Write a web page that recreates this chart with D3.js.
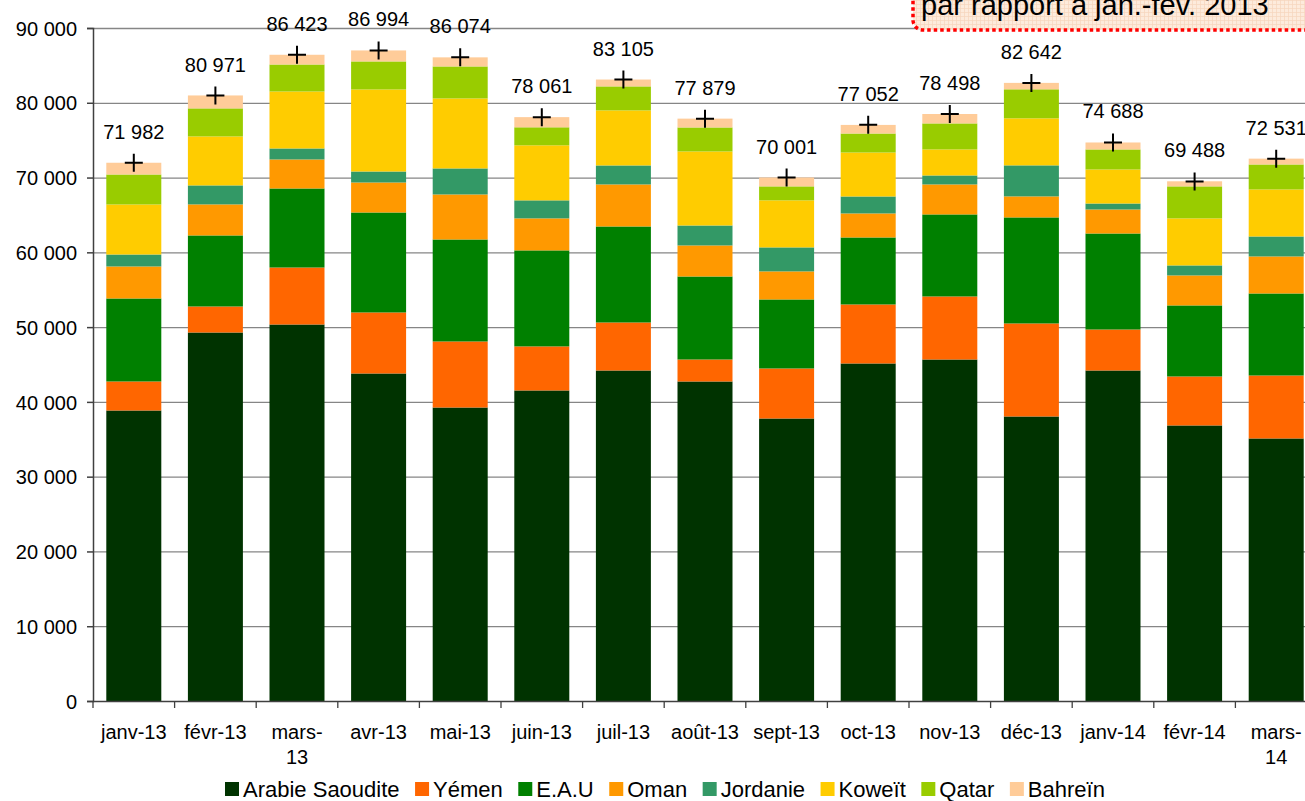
<!DOCTYPE html>
<html>
<head>
<meta charset="utf-8">
<script src="https://cdn.jsdelivr.net/npm/d3@7"></script>
<style>
  body { margin: 0; background: #fff; }
  svg { font-family: "Liberation Sans", Arial, sans-serif; }
</style>
</head>
<body>
<div id="chart"></div>
<script>
var months = ["janv-13", "févr-13", "mars-13", "avr-13", "mai-13", "juin-13", "juil-13", "août-13",
              "sept-13", "oct-13", "nov-13", "déc-13", "janv-14", "févr-14", "mars-14"];
var seriesNames = ["Arabie Saoudite", "Yémen", "E.A.U", "Oman", "Jordanie", "Koweït", "Qatar", "Bahreïn"];
var seriesColors = ["#003300", "#ff6600", "#008000", "#ff9900", "#339966", "#ffcc00", "#99cc00", "#ffcc99"];

var arabie   = [38850, 49280, 50350, 43800, 39250, 41530, 44200, 42730, 37780, 45140, 45670, 38050, 44200, 36850, 35110];
var yemen    = [ 3880,  3480,  7620,  8160,  8830,  5890,  6420,  2940,  6690,  7890,  8430, 12440,  5480,  6550,  8420];
var eau      = [11100,  9500, 10570, 13370, 13640, 12840, 12840, 11100,  9230,  8960, 10970, 14180, 12840,  9500, 10970];
var oman     = [ 4280,  4150,  3880,  4010,  6020,  4280,  5620,  4150,  3750,  3210,  4010,  2810,  3210,  4010,  4950];
var jordanie = [ 1600,  2540,  1470,  1470,  3480,  2410,  2540,  2670,  3210,  2270,  1200,  4150,   800,  1340,  2670];
var koweit   = [ 6690,  6550,  7620, 10970,  9360,  7360,  7360,  9900,  6290,  5880,  3480,  6290,  4550,  6290,  6290];
var qatar    = [ 4010,  3750,  3610,  3750,  4280,  2410,  3210,  3210,  1870,  2540,  3480,  3880,  2680,  4280,  3340];
var bahrein  = [ 1570,  1730,  1300,  1470,  1215,  1360,   920,  1180,  1190,  1150,  1260,   860,   930,   680,   780];
var totals   = [71982, 80971, 86423, 86994, 86074, 78061, 83105, 77879, 70001, 77052, 78498, 82642, 74688, 69488, 72531];
var yTicks   = [0, 10000, 20000, 30000, 40000, 50000, 60000, 70000, 80000, 90000];

var seriesValues = [arabie, yemen, eau, oman, jordanie, koweit, qatar, bahrein];

var W = 1305, H = 801;
var svg = d3.select("#chart").append("svg")
    .attr("width", W).attr("height", H);

// table for d3.stack
var table = months.map(function(m, i) {
    var row = { month: m };
    seriesNames.forEach(function(s, j) { row[s] = seriesValues[j][i]; });
    return row;
});

var x = d3.scaleBand()
    .domain(months)
    .range([93, 1317])
    .paddingInner(0.326)
    .paddingOuter(0.163);

var y = d3.scaleLinear()
    .domain([0, 90000])
    .range([701, 28]);

var fr = d3.formatLocale({ decimal: ",", thousands: " ", grouping: [3], currency: ["", " €"] });
var fmt = fr.format(",d");

var color = d3.scaleOrdinal().domain(seriesNames).range(seriesColors);

// gridlines
svg.append("g")
    .selectAll("line")
    .data(yTicks.filter(function(d) { return d > 0; }))
    .enter().append("line")
    .attr("x1", 93).attr("x2", 1317)
    .attr("y1", function(d) { return y(d) + 0.5; })
    .attr("y2", function(d) { return y(d) + 0.5; })
    .attr("stroke", "#868686")
    .attr("stroke-width", 1.3);

// bars
var stacked = d3.stack().keys(seriesNames)(table);
svg.append("g")
    .selectAll("g")
    .data(stacked)
    .enter().append("g")
    .attr("fill", function(d) { return color(d.key); })
    .selectAll("rect")
    .data(function(d) { return d; })
    .enter().append("rect")
    .attr("x", function(d) { return x(d.data.month); })
    .attr("y", function(d) { return y(d[1]); })
    .attr("height", function(d) { return y(d[0]) - y(d[1]); })
    .attr("width", x.bandwidth());

// y axis
var yAxis = svg.append("g")
    .attr("transform", "translate(93,0)")
    .call(d3.axisLeft(y).tickValues(yTicks).tickFormat(fmt).tickSizeOuter(0).tickSize(6).tickPadding(10));
yAxis.select(".domain").attr("stroke", "#404040").attr("stroke-width", 1.5);
yAxis.selectAll(".tick line").attr("stroke", "#404040").attr("stroke-width", 1.5);
yAxis.selectAll(".tick text")
    .style("font-size", "20px")
    .attr("fill", "#000")
    .attr("dy", "0.36em");

// x axis line and ticks at category boundaries
var bounds = months.map(function(m) { return x(m) - x.step() * x.paddingInner() / 2; });
bounds.push(1317);
svg.append("line")
    .attr("x1", 93).attr("x2", 1317)
    .attr("y1", 701.5).attr("y2", 701.5)
    .attr("stroke", "#404040").attr("stroke-width", 1.5);
svg.append("g")
    .selectAll("line")
    .data(bounds)
    .enter().append("line")
    .attr("x1", function(d) { return d; })
    .attr("x2", function(d) { return d; })
    .attr("y1", 701).attr("y2", 708)
    .attr("stroke", "#404040").attr("stroke-width", 1.3);

// x labels, wrapping the wide ones after the dash
var xl = svg.append("g")
    .selectAll("text")
    .data(months)
    .enter().append("text")
    .attr("x", function(d) { return x(d) + x.bandwidth() / 2; })
    .attr("y", 739)
    .attr("text-anchor", "middle")
    .style("font-size", "20px")
    .text(function(d) { return d; });
xl.each(function(d) {
    var t = d3.select(this);
    if (this.getComputedTextLength() > 70) {
        var parts = d.split("-");
        var cx = +t.attr("x");
        t.text(null);
        t.append("tspan").attr("x", cx).attr("y", 739).text(parts[0] + "-");
        t.append("tspan").attr("x", cx).attr("y", 764).text(parts[1]);
    }
});

// total markers (+) and labels
var tot = svg.append("g")
    .selectAll("g")
    .data(totals)
    .enter().append("g")
    .attr("transform", function(d, i) {
        return "translate(" + (x(months[i]) + x.bandwidth() / 2) + "," + y(d) + ")";
    });
tot.append("path")
    .attr("d", "M-9,0H9M0,-9V9")
    .attr("stroke", "#000")
    .attr("stroke-width", 2);
tot.append("text")
    .attr("y", -24)
    .attr("text-anchor", "middle")
    .style("font-size", "20px")
    .text(function(d) { return fmt(d); });

// legend
var legend = svg.append("g");
var lx = 225;
seriesNames.forEach(function(s) {
    legend.append("rect")
        .attr("x", lx).attr("y", 782)
        .attr("width", 14).attr("height", 14)
        .attr("fill", color(s));
    var t = legend.append("text")
        .attr("x", lx + 18).attr("y", 797)
        .style("font-size", "22px")
        .text(s);
    lx += 18 + t.node().getComputedTextLength() + 15.5;
});

// annotation box, top right (cut by the frame)
var defs = svg.append("defs");
var pat = defs.append("pattern")
    .attr("id", "grid")
    .attr("width", 4).attr("height", 4)
    .attr("patternUnits", "userSpaceOnUse");
pat.append("rect").attr("width", 4).attr("height", 4).attr("fill", "#fdebdc");
pat.append("path").attr("d", "M0,0.5H4M0.5,0V4").attr("stroke", "#f6d6bd").attr("stroke-width", 0.7);

svg.append("rect")
    .attr("x", 913).attr("y", -50)
    .attr("width", 430).attr("height", 80)
    .attr("rx", 10)
    .attr("fill", "url(#grid)")
    .attr("stroke", "#ff0000")
    .attr("stroke-width", 3.5)
    .attr("stroke-dasharray", "3.5,3");
svg.append("text")
    .attr("x", 921).attr("y", 15)
    .style("font-size", "29px")
    .text("par rapport à jan.-fév. 2013");
</script>
</body>
</html>
